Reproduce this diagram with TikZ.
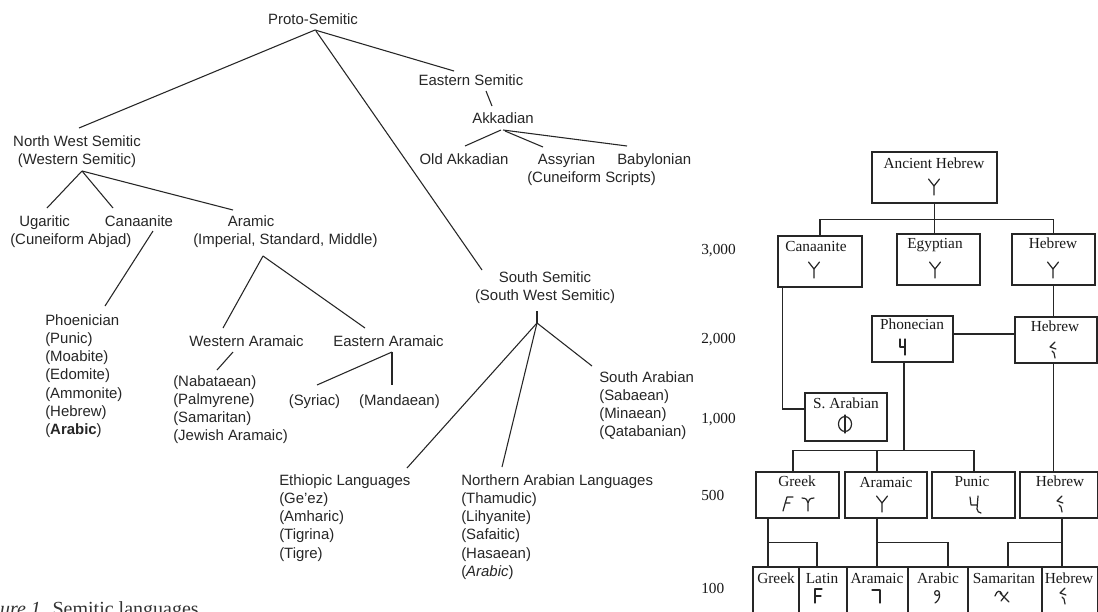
\documentclass[tikz,border=0pt]{standalone}
\usepackage{fontspec}
\setmainfont{Liberation Serif}
\newfontfamily\treefont{Liberation Sans}
\usetikzlibrary{calc}
\newcommand\glY[1]{\draw[glyph,shift={(#1)}] (-5.5,-8) -- (0,-1) -- (5.5,-8) (0,-1) -- (0,8);}
\newcommand\glH[1]{\draw[glyph,shift={(#1)}] (2,-8) -- (-3,-3) -- (3,-1) (-1,1) -- (1,3) -- (2,8);}
\begin{document}
\begin{tikzpicture}[x=0.75pt,y=-0.75pt,
  tree/.style={font={\treefont\fontsize{11.2}{13.7}\selectfont}, inner sep=0pt, text=black!85},
  tl/.style={line width=0.8pt, draw=black!85},
  box/.style={draw=black!85, line width=1.1pt, inner sep=0pt},
  bx/.style 2 args={box, minimum width=#1*0.75pt, minimum height=#2*0.75pt},
  lbl/.style={font={\fontsize{11.5}{13}\selectfont}, inner sep=0pt, anchor=base, text=black!90},
  conn/.style={line width=1.1pt, draw=black!85},
  glyph/.style={line width=0.9pt, draw=black!85, line cap=round, line join=round},
  yr/.style={font={\fontsize{11.5}{13}\selectfont}, inner sep=0pt, anchor=base west, text=black!90},
]
\clip (0,0) rectangle (1098,611);
\fill[white] (0,0) rectangle (1098,611);

% ---------------- left tree (multi-line nodes placed by their last baseline) ----------------
\node[tree,anchor=base] (ps) at (313,24) {Proto-Semitic};
\node[tree,anchor=base] (es) at (471,85) {Eastern Semitic};
\node[tree,anchor=base] (akk) at (503,123) {Akkadian};
\node[tree,anchor=base] (oakk) at (464,164) {Old Akkadian};
\node[tree,anchor=base west,align=left] (assy) at (527,182.3) {\hspace*{8pt}Assyrian\\(Cuneiform Scripts)};
\node[tree,anchor=base west] (baby) at (617,164) {Babylonian};
\node[tree,anchor=base,align=center] (nws) at (77,164.3) {North West Semitic\\(Western Semitic)};
\node[tree,anchor=base west,align=left] (uga) at (10,244.3) {\hspace*{6.75pt}Ugaritic\\(Cuneiform Abjad)};
\node[tree,anchor=base] (can) at (139,226) {Canaanite};
\node[tree,anchor=base west,align=left] (ara) at (193,244.3) {\hspace*{26pt}Aramic\\(Imperial, Standard, Middle)};
\node[tree,anchor=base west,align=left] (phoe) at (45,434.6) {Phoenician\\(Punic)\\(Moabite)\\(Edomite)\\(Ammonite)\\(Hebrew)\\(\textbf{Arabic})};
\node[tree,anchor=base] (wa) at (246.5,346) {Western Aramaic};
\node[tree,anchor=base] (ea) at (388.5,346) {Eastern Aramaic};
\node[tree,anchor=base west,align=left] (nab) at (173,440.8) {(Nabataean)\\(Palmyrene)\\(Samaritan)\\(Jewish Aramaic)};
\node[tree,anchor=base] (syr) at (314.5,405) {(Syriac)};
\node[tree,anchor=base] (man) at (399.5,405) {(Mandaean)};
\node[tree,anchor=base,align=center] (ss) at (545,300.3) {South Semitic\\(South West Semitic)};
\node[tree,anchor=base west,align=left] (sa) at (599,436.8) {South Arabian\\(Sabaean)\\(Minaean)\\(Qatabanian)};
\node[tree,anchor=base west,align=left] (eth) at (279,558.1) {Ethiopic Languages\\(Ge’ez)\\(Amharic)\\(Tigrina)\\(Tigre)};
\node[tree,anchor=base west,align=left] (nar) at (461,576.35) {Northern Arabian Languages\\(Thamudic)\\(Lihyanite)\\(Safaitic)\\(Hasaean)\\(\textit{Arabic})};
\node[anchor=base west, inner sep=0pt, font={\fontsize{15}{18}\selectfont}, text=black!80] (cap) at (-28,615) {\textit{Figure 1.} Semitic languages};

\draw[tl] ($(ps.base)+(2,6)$) -- ($(nws.base)+(2,-36.3)$);
\draw[tl] ($(ps.base)+(2,6)$) -- ($(es.base)+(-17,-14)$);
\draw[tl] ($(ps.base)+(3,7)$) -- ($(ss.base)+(-63,-30.3)$);
\draw[tl] ($(es.base)+(15,6)$) -- ($(akk.base)+(-11,-17)$);
\draw[tl] ($(akk.base)+(-2,7)$) -- ($(oakk.base)+(1,-18)$);
\draw[tl] ($(akk.base)+(2,8)$) -- ($(assy.base west)+(16,-35.3)$);
\draw[tl] ($(akk.base)+(0,7)$) -- ($(baby.base west)+(10,-18)$);
\draw[tl] ($(nws.base)+(5,6.7)$) -- ($(uga.base west)+(37,-36.3)$);
\draw[tl] ($(nws.base)+(5,6.7)$) -- ($(can.base)+(-26,-18)$);
\draw[tl] ($(nws.base)+(5,6.7)$) -- ($(ara.base west)+(40,-34.3)$);
\draw[tl] ($(can.base)+(14,5)$) -- ($(phoe.base west)+(60,-128.6)$);
\draw[tl] ($(ara.base west)+(70,11.7)$) -- ($(wa.base)+(-23.5,-18)$);
\draw[tl] ($(ara.base west)+(70,11.7)$) -- ($(ea.base)+(-23.5,-18)$);
\draw[tl] ($(wa.base)+(-13.5,6)$) -- ($(nab.base west)+(44,-70.8)$);
\draw[tl] ($(ea.base)+(3.5,6)$) -- ($(syr.base)+(2.5,-20)$);
\draw[tl] ($(ea.base)+(3.5,6)$) -- ($(man.base)+(-7.5,-20)$);
\coordinate (ssj) at ($(ss.base)+(-8,22.7)$);
\draw[tl] ($(ss.base)+(-8,10.7)$) -- (ssj);
\draw[tl] (ssj) -- ($(eth.base west)+(128,-90.1)$);
\draw[tl] (ssj) -- ($(nar.base west)+(41,-109.35)$);
\draw[tl] (ssj) -- ($(sa.base west)+(-7,-70.8)$);

% ---------------- right chart ----------------
\node[bx={125}{51}] (ah) at (934.5,177.5) {};
\node[bx={84}{51}] (cnb) at (820,261.5) {};
\node[bx={83}{51}] (egy) at (938.5,259.5) {};
\node[bx={83}{51}] (hb1) at (1053.5,259.5) {};
\node[bx={81}{46}] (pho) at (912.5,339) {};
\node[bx={82}{46}] (hb2) at (1056,340) {};
\node[bx={82}{48}] (sar) at (846,417) {};
\node[bx={83}{46}] (grk) at (797.5,495) {};
\node[bx={82}{46}] (arm) at (886,495) {};
\node[bx={83}{46}] (pun) at (973.5,495) {};
\node[bx={78}{46}] (hb3) at (1059,495) {};
\node[bx={46}{73}] (bgr) at (776,603.5) {};
\node[bx={48}{73}] (blt) at (823,603.5) {};
\node[bx={61}{73}] (bar) at (877.5,603.5) {};
\node[bx={60}{73}] (bab) at (938,603.5) {};
\node[bx={74}{73}] (bsm) at (1005,603.5) {};
\node[bx={56}{73}] (bhb) at (1070,603.5) {};

\node[lbl] (ahl) at (934,168) {Ancient Hebrew};
\node[lbl] (cnl) at (816,251) {Canaanite};
\node[lbl] (egl) at (935,248) {Egyptian};
\node[lbl] (h1l) at (1053,248) {Hebrew};
\node[lbl] (phl) at (912,329) {Phonecian};
\node[lbl] (h2l) at (1055,331) {Hebrew};
\node[lbl] (sal) at (846,408) {S. Arabian};
\node[lbl] (grl) at (797,486) {Greek};
\node[lbl] (arl) at (886,487) {Aramaic};
\node[lbl] (pul) at (972,486) {Punic};
\node[lbl] (h3l) at (1060,486) {Hebrew};
\node[lbl] (bgl) at (776,583) {Greek};
\node[lbl] (bll) at (822,583) {Latin};
\node[lbl] (bal) at (877,583) {Aramaic};
\node[lbl] (bbl) at (938,583) {Arabic};
\node[lbl] (bsl) at (1004,583) {Samaritan};
\node[lbl] (bhl) at (1069,583) {Hebrew};

\node[yr] (y3) at (701,254) {3,000};
\node[yr] (y2) at (701,343) {2,000};
\node[yr] (y1) at (701,423) {1,000};
\node[yr] (y5) at (701,500) {500};
\node[yr] (y0) at (701,593) {100};

% connectors
\draw[conn] (ah.south) -- ++(0,16) coordinate (ahj);
\draw[conn] (cnb.north) |- (ahj) -| (hb1.north);
\draw[conn] (ahj) -- (ahj |- egy.north);
\draw[conn] (hb1.south) -- (hb1.south |- hb2.north);
\coordinate (pe) at ($(pho.east)+(0,-5)$);
\draw[conn] (pe) -- (pe -| hb2.west);
\draw[conn] ($(cnb.south west)+(5,0)$) |- ($(sar.west)+(0,-8)$);
\coordinate (pb) at ($(pho.south)+(-8.5,0)$);
\draw[conn] (pb) -- ++(0,88) coordinate (pj);
\coordinate (gA) at ($(grk.north)+(-4.5,0)$);
\draw[conn] (gA) |- (pj) -| ($(pun.north)+(0.5,0)$);
\coordinate (aA) at ($(arm.north)+(-9,0)$);
\draw[conn] (aA) -- (aA |- pj);
\draw[conn] (hb2.south -| hb1.south) -- (hb1.south |- hb3.north);
\coordinate (gB) at ($(grk.south)+(-29.5,0)$);
\draw[conn] (gB) -- (gB |- bgr.north);
\draw[conn] ($(gB)+(0,24)$) -| ($(blt.north)+(-6,0)$);
\coordinate (aB) at ($(arm.south)+(-9,0)$);
\draw[conn] (aB) -- (aB |- bar.north);
\draw[conn] ($(aB)+(0,24)$) -| ($(bab.north)+(10,0)$);
\coordinate (hB) at ($(hb3.south)+(3,0)$);
\draw[conn] (hB) -- (hB |- bhb.north);
\draw[conn] ($(hB)+(0,24)$) -| ($(bsm.north)+(3,0)$);

% glyphs
\glY{934,187}
\glY{814,270}
\glY{935,270}
\glY{1053,270}
\glY{882,504}
\draw[glyph,shift={(903,347)}] (-3,-8) -- (-3,0) -- (2,0) (2,-8) -- (2,8);
\glH{1053,350}
\draw[glyph] (845,424) ellipse [x radius=4.9pt, y radius=5.6pt];
\draw[glyph] (845,415) -- (845,433);
\draw[glyph] (783,511) -- (787,497) -- (793,497) (785,503) -- (790,503);
\draw[glyph] (802,498) .. controls (806,498) and (808,500) .. (808,503) .. controls (808,500) and (810,498) .. (814,498) (808,503) -- (808,511);
\draw[glyph,shift={(975,503)}] (-5,-6) -- (-4,2) -- (2,2) (3,-7) -- (2,6) .. controls (2,8) and (4,10) .. (6,10);
\glH{1060,504}
\draw[glyph] (815,603) -- (815,589) -- (822,589) (815,596) -- (821,596);
\draw[glyph] (872,590) -- (880,590) -- (880,603);
\draw[glyph] (937,593) circle [radius=1.8pt];
\draw[glyph] (939.5,594) .. controls (940,598) and (938,601) .. (935,603);
\draw[glyph] (995,596) .. controls (997,590) and (1000,590) .. (1002,594) (1000,593) -- (1009,602) (1008,592) -- (1001,601);
\glH{1063,596}
\end{tikzpicture}
\end{document}
